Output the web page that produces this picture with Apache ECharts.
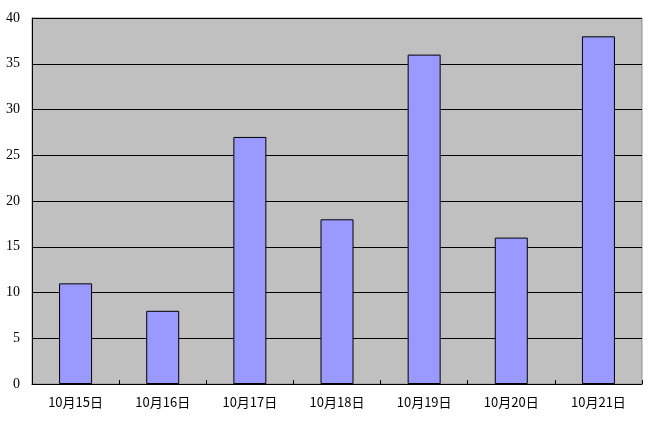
<!DOCTYPE html>
<html><head><meta charset="utf-8">
<script src="https://cdn.jsdelivr.net/npm/echarts@6/dist/echarts.min.js"></script>
<style>html,body{margin:0;padding:0;background:#fff}#c{width:650px;height:422px}</style>
</head><body><div id="c"></div>
<script>
const categories = ['10月15日','10月16日','10月17日','10月18日','10月19日','10月20日','10月21日'];
const values = [11, 8, 27, 18, 36, 16, 38];
const yTicks = [0, 5, 10, 15, 20, 25, 30, 35, 40];

const chart = echarts.init(document.getElementById('c'), null, {renderer: 'canvas'});
chart.setOption({
  animation: false,
  grid: {left: 32, right: 8, top: 18, bottom: 38, show: true, backgroundColor: '#c0c0c0', borderColor: '#909090', borderWidth: 1},
  xAxis: {
    type: 'category', data: categories,
    axisLine: {lineStyle: {color: '#000', width: 1}},
    axisTick: {show: true, inside: true, length: 4, lineStyle: {color: '#000'}},
    axisLabel: {color: '#000', fontSize: 13, fontFamily: '"Noto Sans CJK SC", "Liberation Serif", serif', margin: 12}
  },
  yAxis: {
    type: 'value', min: yTicks[0], max: yTicks[yTicks.length - 1], interval: 5,
    axisLine: {show: true, lineStyle: {color: '#000', width: 1}},
    axisTick: {show: false},
    splitLine: {lineStyle: {color: '#000', width: 1}},
    axisLabel: {color: '#000', fontSize: 14, fontFamily: '"Liberation Serif", serif', margin: 12}
  },
  series: [{
    type: 'bar', data: values, barWidth: 33,
    itemStyle: {color: '#9999ff', borderColor: '#000', borderWidth: 1}
  }]
});
</script></body></html>
